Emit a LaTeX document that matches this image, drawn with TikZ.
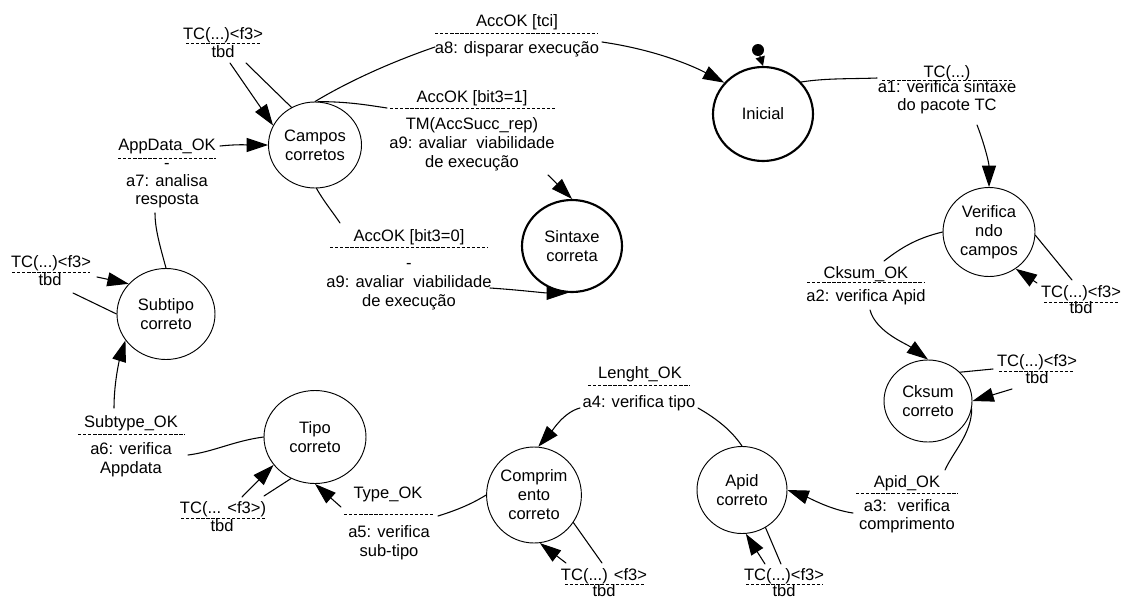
\documentclass[tikz,border=0pt]{standalone}
\usepackage{fontspec}
\setmainfont{Liberation Sans}
\usetikzlibrary{arrows.meta,shapes.geometric}

\begin{document}
\begin{tikzpicture}[x=0.75pt,y=-0.75pt,>={Triangle[length=16pt,width=10.5pt]},
  font=\fontsize{12.4}{14.25}\selectfont,line cap=round,
  state/.style={ellipse,draw,line width=0.7pt,inner sep=0pt,align=center},
  mainstate/.style={state,line width=1.6pt},
  sz/.style 2 args={minimum width=#1*0.75pt,minimum height=#2*0.75pt},
  txt/.style={inner sep=0pt,align=center},
  tight/.style={txt,font=\fontsize{12.4}{12}\selectfont},
  dsh/.style={line width=0.6pt,dash pattern=on 2.5pt off 1.3pt,line cap=butt},
  edge/.style={line width=0.8pt}]
\useasboundingbox (0,0) rectangle (1125,600);

% states
\node[mainstate,sz={100}{94}] (inicial) at (763,114) {Inicial};
\node[mainstate,sz={100}{92}] (sintaxe) at (572,246) {Sintaxe\\correta};
\node[state,sz={93}{86}] (campos) at (315,145) {Campos\\corretos};
\node[state,sz={92}{89}] (verif) at (989,232) {Verifica\\ndo\\campos};
\node[state,sz={88}{82}] (cksum) at (928,401) {Cksum\\correto};
\node[state,sz={90}{87}] (apid) at (742,490) {Apid\\correto};
\node[state,sz={94}{96}] (compr) at (534,495) {Comprim\\ento\\correto};
\node[state,sz={102}{93}] (tipo) at (315,437) {Tipo\\correto};
\node[state,sz={98}{91}] (subtipo) at (166,314) {Subtipo\\correto};
\node[circle,fill,inner sep=0pt,minimum size=9pt] (dot) at (758,50) {};

% transition labels
\node[txt] (tciev) at (517,22) {AccOK [tci]};
\draw[dsh] (435,33) -- (598,33);
\node[txt] (tciac) at (517,49) {a8: disparar execução};
\node[txt] (boneev) at (472,98) {AccOK [bit3=1]};
\draw[dsh] (390,108) -- (555,108);
\node[txt] (boneac) at (472,145) {\strut TM(AccSucc\_rep)\\\strut a9: avaliar~ viabilidade\\\strut de execução};
\node[txt] (bzeroev) at (409,237) {AccOK [bit3=0]};
\draw[dsh] (330,247) -- (488,247);
\node[txt] (bzeroac) at (409,284) {\strut -\\\strut a9: avaliar~ viabilidade\\\strut de execução};
\node[txt] (tconeev) at (947,73) {TC(...)};
\draw[dsh] (882,80) -- (1012,80);
\node[tight] (tconeac) at (947,98) {\strut a1: verifica sintaxe\\\strut do pacote TC};
\node[txt] (ckev) at (866,274) {Cksum\_OK};
\draw[dsh] (807,282) -- (925,282);
\node[txt] (ckac) at (866,297) {a2: verifica Apid};
\node[txt] (apev) at (907,483) {Apid\_OK};
\draw[dsh] (856,493) -- (958,493);
\node[tight] (apac) at (907,517) {\strut a3:~ verifica\\\strut comprimento};
\node[txt] (lenev) at (640,374) {Lenght\_OK};
\draw[dsh] (588,385) -- (690,385);
\node[txt] (lenac) at (639,403) {a4: verifica tipo};
\node[txt] (tyev) at (388,494) {Type\_OK};
\draw[dsh] (344,514) -- (434,514);
\node[txt] (tyac) at (389,543) {\strut a5: verifica\\\strut sub-tipo};
\node[txt] (stev) at (131,423) {Subtype\_OK};
\draw[dsh] (78,434) -- (185,434);
\node[txt] (stac) at (131,460) {\strut a6: verifica\\\strut Appdata};
\node[txt] (adev) at (167,146) {AppData\_OK};
\draw[dsh] (118,158) -- (216,158);
\node[txt,font=\fontsize{12.4}{13.5}\selectfont] (adac) at (167,183) {\strut -\\\strut a7: analisa\\\strut resposta};

% self loop labels
\node[txt] (tcAev) at (223,35) {TC(...)<f3>};
\draw[dsh] (186,43) -- (260,43);
\node[txt] (tcAac) at (223,52) {tbd};
\node[txt] (tcBev) at (51,263) {TC(...)<f3>};
\draw[dsh] (12,272) -- (90,272);
\node[txt] (tcBac) at (50,280) {tbd};
\node[txt] (tcCev) at (223,509) {TC(... <f3>)};
\draw[dsh] (181,518) -- (265,518);
\node[txt] (tcCac) at (222,526) {tbd};
\node[txt] (tcDev) at (604,576) {TC(...) <f3>};
\draw[dsh] (565,584) -- (644,584);
\node[txt] (tcDac) at (604,591) {tbd};
\node[txt] (tcEev) at (784,576) {TC(...)<f3>};
\draw[dsh] (746,584) -- (823,584);
\node[txt] (tcEac) at (784,591) {tbd};
\node[txt] (tcFev) at (1037,362) {TC(...)<f3>};
\draw[dsh] (999,371) -- (1073,371);
\node[txt] (tcFac) at (1037,378) {tbd};
\node[txt] (tcGev) at (1081,293) {TC(...)<f3>};
\draw[dsh] (1044,302) -- (1118,302);
\node[txt] (tcGac) at (1081,308) {tbd};

% free ends
\coordinate (tcone-l) at (877,78);
\coordinate (tcone-r) at (977,125);
\coordinate (ck-t) at (884,261);
\coordinate (ck-b) at (870,310);
\coordinate (ap-t) at (945,470);
\coordinate (ap-l) at (853,513);
\coordinate (len-r) at (698,408);
\coordinate (len-l) at (580,408);
\coordinate (ty-r) at (438,516);
\coordinate (ty-l) at (341,507);
\coordinate (st-r) at (188,455);
\coordinate (st-t) at (114,408);
\coordinate (ad-b) at (155,213);
\coordinate (ad-r) at (220,146);
\coordinate (tci-l) at (435,47);
\coordinate (tci-r) at (602,42);
\coordinate (bone-l) at (387,108);
\coordinate (bone-b) at (548,175);
\coordinate (bzero-t) at (340,223);
\coordinate (bzero-r) at (490,288);
\coordinate (tcA-a) at (230,63);
\coordinate (tcA-b) at (246,63);
\coordinate (tcB-a) at (97,277);
\coordinate (tcB-b) at (73,293);
\coordinate (tcC-a) at (242,497);
\coordinate (tcC-b) at (264,496);
\coordinate (tcD-a) at (566,563);
\coordinate (tcD-b) at (602,563);
\coordinate (tcE-a) at (765,564);
\coordinate (tcE-b) at (781,564);
\coordinate (tcF-a) at (1012,389);
\coordinate (tcF-b) at (993,369);
\coordinate (tcG-a) at (1037,283);
\coordinate (tcG-b) at (1072,280);

% transitions
\draw[edge,-{Triangle[length=7pt,width=7pt]}] (dot) -- (inicial.north);
\draw[edge] (inicial.40) .. controls +(25,-4) and +(-25,1) .. (tcone-l);
\draw[edge,->] (tcone-r) .. controls +(6,15) and +(0,-25) .. (verif.north);
\draw[edge] (verif.west) .. controls +(-25,6) and +(18,-14) .. (ck-t);
\draw[edge,->] (ck-b) .. controls +(6,22) and +(-22,-16) .. (cksum.north);
\draw[edge] (cksum.-10) .. controls +(0,25) and +(8,-18) .. (ap-t);
\draw[edge,->] (ap-l) .. controls +(-22,-3) and +(22,8) .. (apid.east);
\draw[edge] (apid.north) .. controls +(-12,-18) and +(14,8) .. (len-r);
\draw[edge,->] (len-l) .. controls +(-16,4) and +(14,-16) .. (compr.85);
\draw[edge] (compr.west) .. controls +(-16,10) and +(16,-5) .. (ty-r);
\draw[edge,->] (ty-l) -- (tipo.south);
\draw[edge] (tipo.west) .. controls +(-30,4) and +(25,-3) .. (st-r);
\draw[edge,->] (st-t) .. controls +(0,-28) and +(-5,16) .. (subtipo.213);
\draw[edge] (subtipo.north) .. controls +(-6,-22) and +(0,16) .. (ad-b);
\draw[edge,->] (ad-r) .. controls +(20,-2) and +(-20,0) .. (campos.west);
\draw[edge] (campos.90) .. controls +(40,-24) and +(-35,12) .. (tci-l);
\draw[edge,->] (tci-r) .. controls +(55,8) and +(-30,-16) .. (inicial.141);
\draw[edge] (campos.86) .. controls +(30,0) and +(-20,-3) .. (bone-l);
\draw[edge,->] (bone-b) -- (sintaxe.north);
\draw[edge] (campos.-88) .. controls +(8,14) and +(-8,-12) .. (bzero-t);
\draw[edge,->] (bzero-r) .. controls +(30,2) and +(-25,0) .. (sintaxe.-95);

% self loops
\draw[edge,->] (tcA-a) -- (campos.155);
\draw[edge] (campos.122) -- (tcA-b);
\draw[edge,->] (tcB-a) -- (subtipo.141);
\draw[edge] (subtipo.west) -- (tcB-b);
\draw[edge,->] (tcC-a) -- (tipo.214);
\draw[edge] (tipo.240) -- (tcC-b);
\draw[edge,->] (tcD-a) -- (compr.-83);
\draw[edge] (compr.-35) -- (tcD-b);
\draw[edge,->] (tcE-a) -- (apid.-85);
\draw[edge] (apid.-58) -- (tcE-b);
\draw[edge,->] (tcF-a) -- (cksum.east);
\draw[edge] (cksum.42) -- (tcF-b);
\draw[edge,->] (tcG-a) -- (verif.-54);
\draw[edge] (verif.-4) -- (tcG-b);
\end{tikzpicture}
\end{document}
